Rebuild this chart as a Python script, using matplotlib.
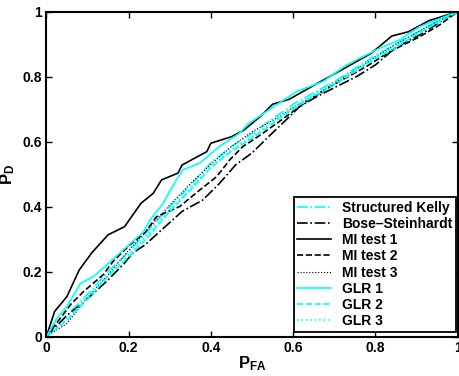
import matplotlib
matplotlib.use("Agg")
import matplotlib.pyplot as plt

plt.rcParams["font.family"] = ["Liberation Sans", "DejaVu Sans"]
plt.rcParams["font.weight"] = "bold"
plt.rcParams["mathtext.fontset"] = "custom"
plt.rcParams["mathtext.rm"] = "Liberation Sans:bold"
plt.rcParams["mathtext.bf"] = "Liberation Sans:bold"
plt.rcParams["mathtext.it"] = "Liberation Sans:bold"

# ---------------------------------------------------------
# ROC curves (P_FA, P_D)
# ---------------------------------------------------------
grid = [0, 0.05, 0.1, 0.15, 0.2, 0.25, 0.3, 0.35, 0.4, 0.45, 0.5,
        0.55, 0.6, 0.65, 0.7, 0.75, 0.8, 0.85, 0.9, 0.95, 1.0]

kelly_y = [0, 0.065, 0.13, 0.20, 0.26, 0.33, 0.40, 0.465, 0.535, 0.585, 0.625,
           0.67, 0.715, 0.75, 0.785, 0.825, 0.865, 0.90, 0.935, 0.97, 1.0]

bose_x = [0, 0.05, 0.08, 0.11, 0.15, 0.19, 0.21, 0.24, 0.28, 0.33, 0.38, 0.42,
          0.46, 0.50, 0.54, 0.575, 0.616, 0.657, 0.705, 0.754, 0.80, 0.85,
          0.916, 0.964, 1.0]
bose_y = [0, 0.065, 0.095, 0.128, 0.174, 0.226, 0.257, 0.282, 0.328, 0.385,
          0.42, 0.47, 0.528, 0.565, 0.615, 0.657, 0.708, 0.738, 0.769, 0.80,
          0.836, 0.89, 0.934, 0.974, 1.0]

mi1_x = [0, 0.02, 0.05, 0.08, 0.11, 0.15, 0.19, 0.23, 0.26, 0.28, 0.32, 0.33,
         0.39, 0.40, 0.45, 0.48, 0.52, 0.55, 0.59, 0.66, 0.71, 0.79, 0.84,
         0.88, 0.93, 1.0]
mi1_y = [0, 0.077, 0.123, 0.205, 0.257, 0.313, 0.338, 0.41, 0.441, 0.482,
         0.503, 0.528, 0.569, 0.595, 0.615, 0.635, 0.677, 0.715, 0.73, 0.78,
         0.815, 0.872, 0.925, 0.938, 0.972, 1.0]

mi2_x = [0, 0.03, 0.06, 0.09, 0.114, 0.138, 0.162, 0.183, 0.203, 0.24, 0.268,
         0.324, 0.373, 0.414, 0.446, 0.478, 0.52, 0.57, 0.632, 0.697, 0.778,
         0.835, 0.908, 0.956, 1.0]
mi2_y = [0, 0.05, 0.10, 0.138, 0.164, 0.19, 0.231, 0.257, 0.282, 0.32, 0.369,
         0.40, 0.451, 0.492, 0.544, 0.585, 0.62, 0.665, 0.723, 0.774, 0.831,
         0.877, 0.923, 0.959, 1.0]

mi3_y = [0, 0.04, 0.12, 0.19, 0.265, 0.335, 0.405, 0.47, 0.53, 0.585, 0.63,
         0.665, 0.705, 0.74, 0.78, 0.82, 0.86, 0.90, 0.935, 0.97, 1.0]

glr1_x = [0, 0.026, 0.05, 0.083, 0.115, 0.156, 0.196, 0.237, 0.252, 0.284,
          0.316, 0.332, 0.373, 0.421, 0.47, 0.49, 0.511, 0.608, 0.673, 0.73,
          0.81, 0.859, 0.908, 1.0]
glr1_y = [0, 0.057, 0.092, 0.164, 0.185, 0.231, 0.277, 0.323, 0.359, 0.41,
          0.482, 0.513, 0.534, 0.585, 0.626, 0.654, 0.672, 0.754, 0.785,
          0.836, 0.887, 0.913, 0.954, 1.0]

glr2_y = [0, 0.05, 0.115, 0.185, 0.245, 0.31, 0.385, 0.45, 0.52, 0.57, 0.61,
          0.655, 0.70, 0.74, 0.775, 0.815, 0.855, 0.89, 0.93, 0.965, 1.0]

glr3_y = [0, 0.055, 0.12, 0.19, 0.25, 0.32, 0.39, 0.455, 0.525, 0.575, 0.615,
          0.66, 0.705, 0.745, 0.78, 0.82, 0.86, 0.895, 0.932, 0.967, 1.0]

ticks = [0, 0.2, 0.4, 0.6, 0.8, 1]
tick_labels = ["0", "0.2", "0.4", "0.6", "0.8", "1"]

# ---------------------------------------------------------
# Plot
# ---------------------------------------------------------
fig = plt.figure(figsize=(4.59, 3.76), dpi=100)
ax = fig.add_axes([0.101, 0.105, 0.896, 0.864])

lw = 1.2
ax.plot(grid, kelly_y, color="cyan", ls="-.", lw=lw, label="Structured Kelly")
ax.plot(bose_x, bose_y, color="black", ls="-.", lw=lw, label="Bose\u2013Steinhardt")
ax.plot(mi1_x, mi1_y, color="black", ls="-", lw=lw, label="MI test 1")
ax.plot(mi2_x, mi2_y, color="black", ls="--", lw=lw, label="MI test 2")
ax.plot(grid, mi3_y, color="black", ls=":", lw=0.8, label="MI test 3")
ax.plot(glr1_x, glr1_y, color="cyan", ls="-", lw=lw, label="GLR 1")
ax.plot(grid, glr2_y, color="cyan", ls="--", lw=lw, label="GLR 2")
ax.plot(grid, glr3_y, color="cyan", ls=":", lw=lw, label="GLR 3")

ax.set_xlim(0, 1)
ax.set_ylim(0, 1)
ax.set_xticks(ticks)
ax.set_xticklabels(tick_labels)
ax.set_yticks(ticks)
ax.set_yticklabels(tick_labels)
ax.tick_params(direction="in", top=True, right=True, labelsize=10,
               width=1, length=4, pad=3)
for s in ax.spines.values():
    s.set_linewidth(1.5)

ax.set_xlabel(r"$\mathbf{P}_{\mathbf{FA}}$", fontsize=12, labelpad=0)
ax.set_ylabel(r"$\mathbf{P}_{\mathbf{D}}$", fontsize=12, labelpad=4)

leg = ax.legend(loc="lower right", bbox_to_anchor=(0.995, 0.015),
                fontsize=10, fancybox=False, framealpha=1,
                edgecolor="black", borderpad=0.25, labelspacing=0.16,
                handlelength=2.4, handletextpad=0.8, borderaxespad=0)
leg.get_frame().set_linewidth(1.3)

fig.savefig("out.png", dpi=100)
